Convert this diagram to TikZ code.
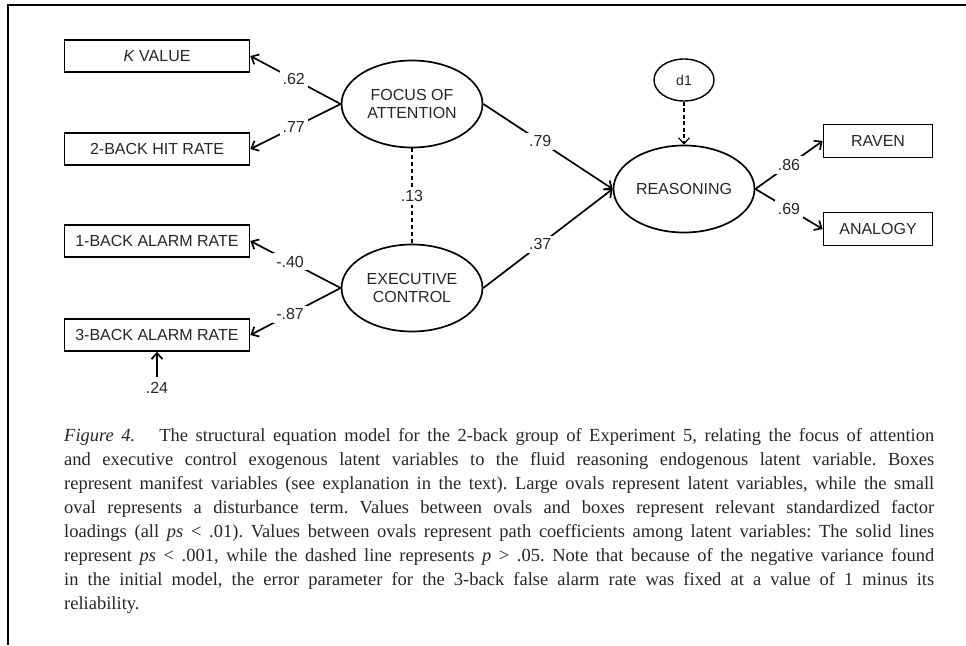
\documentclass[tikz,border=0pt]{standalone}
\usepackage{fontspec}
\setmainfont{Liberation Serif}
\setsansfont{Liberation Sans}
\usetikzlibrary{shapes.geometric,arrows.meta}
\definecolor{ink}{HTML}{262626}
\tikzset{
  manifest/.style={draw, line width=1.7pt, minimum height=32pt, inner sep=0pt,
    text=ink, font=\sffamily\fontsize{16}{18}\selectfont},
  latent/.style={draw, ellipse, line width=1.7pt, minimum width=141pt,
    minimum height=87pt, inner sep=0pt, align=center, text=ink,
    font=\sffamily\fontsize{16}{18}\selectfont},
  coef/.style={fill=white, inner sep=3pt, text=ink,
    font=\sffamily\fontsize{16}{18}\selectfont},
  load/.style={line width=1.7pt, -{Straight Barb[length=6pt,width=11pt]}}
}
\begin{document}
\begin{tikzpicture}[x=1pt,y=-1pt]
  \useasboundingbox (0,0) rectangle (966,645);
  \draw[line width=2pt] (966,5) -- (8,5) -- (8,645);

  \node[manifest, minimum width=185pt] (kval) at (157,56) {\textit{K} VALUE};
  \node[manifest, minimum width=185pt] (hit2) at (157,149) {2-BACK HIT RATE};
  \node[manifest, minimum width=185pt] (alarm1) at (157,241) {1-BACK ALARM RATE};
  \node[manifest, minimum width=185pt] (alarm3) at (157,335) {3-BACK ALARM RATE};
  \node[coef, fill=none] (err3) at (157,388) {.24};

  \node[latent] (foa) at (412,104) {FOCUS OF\\ATTENTION};
  \node[latent] (exc) at (412,288) {EXECUTIVE\\CONTROL};
  \node[latent] (rsn) at (684,189) {REASONING};
  \node[latent, minimum width=60pt, minimum height=42pt, line width=1.4pt,
    font=\sffamily\fontsize{14}{16}\selectfont] (d1) at (684,80) {d1};

  \node[manifest, minimum width=109pt, minimum height=33pt] (raven) at (878,141) {RAVEN};
  \node[manifest, minimum width=109pt, minimum height=33pt] (analogy) at (878,229) {ANALOGY};

  \begin{scope}[load]
    \draw (foa.west) to node[coef, pos=0.52] {.62} (kval.east);
    \draw (foa.west) to node[coef, pos=0.52] {.77} (hit2.east);
    \draw (exc.west) to node[coef, pos=0.56] {-.40} (alarm1.east);
    \draw (exc.west) to node[coef, pos=0.56] {-.87} (alarm3.east);
    \draw (foa.east) to node[coef, pos=0.44] {.79} (rsn.west);
    \draw (exc.east) to node[coef, pos=0.44] {.37} (rsn.west);
    \draw (rsn.east) to node[coef] {.86} (raven.west);
    \draw (rsn.east) to node[coef] {.69} (analogy.west);
    \draw[shorten <=2pt] (err3.north) to (alarm3.south);
    \draw[line width=1.2pt, dash pattern=on 4pt off 2.5pt] (d1.south) to (rsn.north);
  \end{scope}
  \draw[line width=1.2pt, dash pattern=on 4pt off 3pt] (foa.south) to node[coef] {.13} (exc.north);

  \node[anchor=north west, text width=870pt, align=justify, inner sep=0pt, text=ink,
    font=\fontsize{18.5}{24}\selectfont] (caption) at (64,428.5)
    {\frenchspacing\hyphenpenalty=10000\textit{Figure 4.}\hspace{24pt}The structural equation model for the 2-back group of Experiment 5, relating the focus of attention\linebreak
    and executive control exogenous latent variables to the fluid reasoning endogenous latent variable. Boxes\linebreak
    represent manifest variables (see explanation in the text). Large ovals represent latent variables, while the small\linebreak
    oval represents a disturbance term. Values between ovals and boxes represent relevant standardized factor\linebreak
    loadings (all \textit{ps} < .01). Values between ovals represent path coefficients among latent variables: The solid lines\linebreak
    represent \textit{ps} < .001, while the dashed line represents \textit{p} > .05. Note that because of the negative variance found\linebreak
    in the initial model, the error parameter for the 3-back false alarm rate was fixed at a value of 1 minus its\linebreak
    reliability.};
\end{tikzpicture}
\end{document}
